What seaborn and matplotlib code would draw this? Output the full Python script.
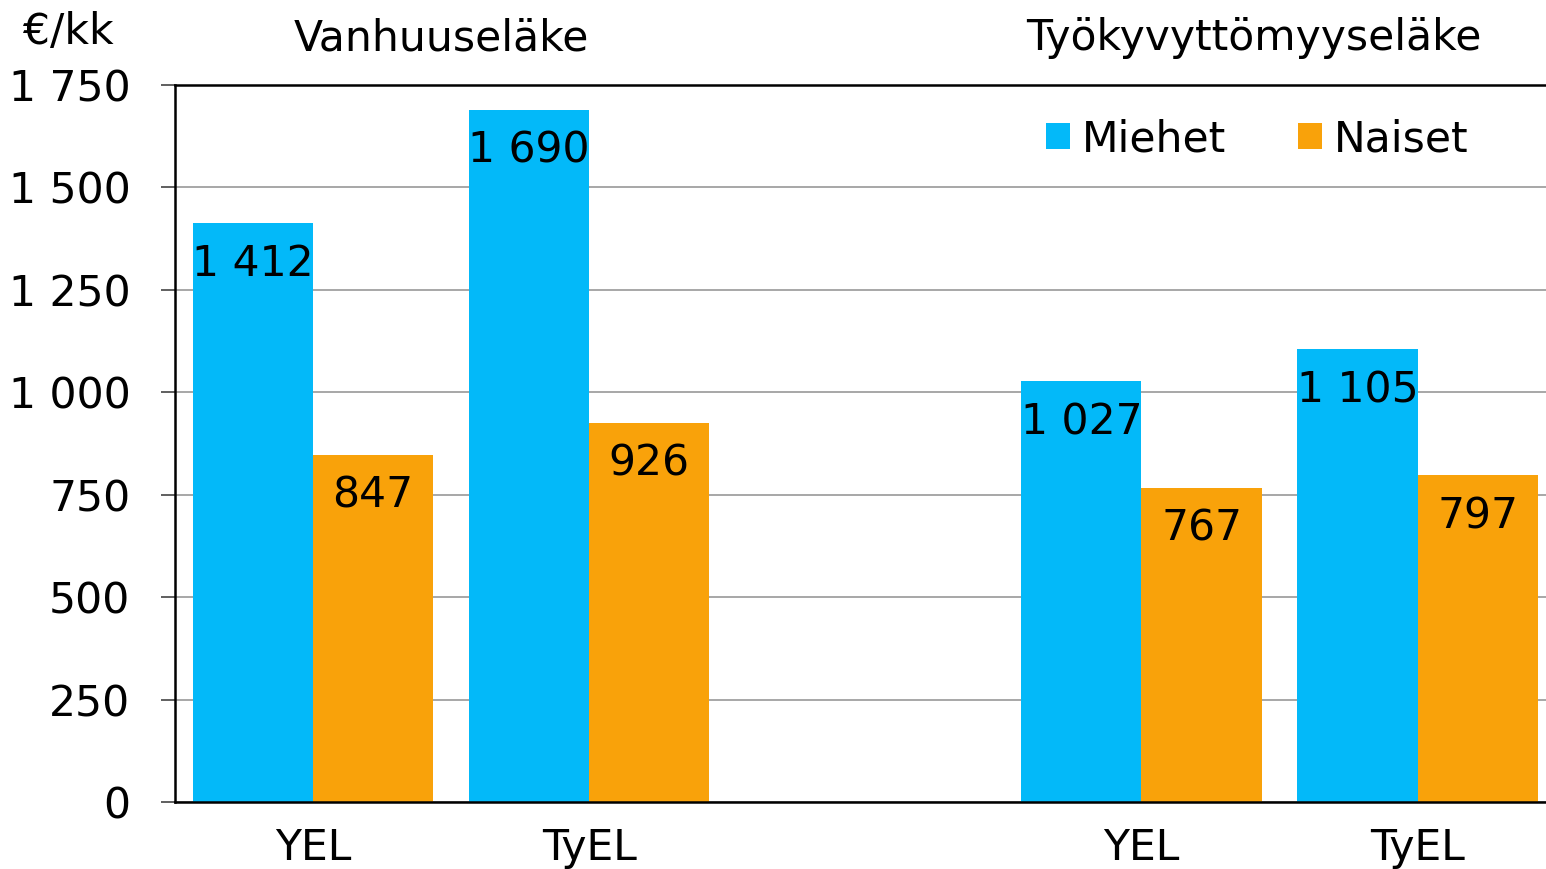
import numpy as np
import pandas as pd
import matplotlib
matplotlib.use("Agg")
import matplotlib.pyplot as plt
from matplotlib.patches import Patch
import seaborn as sns

# data
slots = ["v_YEL", "v_TyEL", "gap", "t_YEL", "t_TyEL"]
slot_labels = ["YEL", "TyEL", "", "YEL", "TyEL"]
bar_slots = ["v_YEL", "v_TyEL", "t_YEL", "t_TyEL"]
miehet = [1412, 1690, 1027, 1105]
naiset = [847, 926, 767, 797]
groups = ["Miehet", "Naiset"]
group_titles = ["Vanhuuseläke", "Työkyvyttömyyseläke"]
yticks = [0, 250, 500, 750, 1000, 1250, 1500, 1750]
unit = "€/kk"

blue = "#03B9F9"
orange = "#F9A20A"

df = pd.DataFrame({
    "slot": bar_slots * 2,
    "sex": [groups[0]] * 4 + [groups[1]] * 4,
    "value": miehet + naiset,
})

sns.set_theme(style="white")
plt.rcParams["font.family"] = ["DejaVu Sans"]
plt.rcParams["text.color"] = "black"
plt.rcParams["xtick.color"] = "black"
plt.rcParams["ytick.color"] = "black"
fs = 30.6

fig = plt.figure(figsize=(15.46, 8.69), dpi=100)
ax = fig.add_axes([175 / 1546, 1 - 802 / 869, 1 - 175 / 1546, (802 - 85) / 869])

sns.barplot(data=df, x="slot", y="value", hue="sex", order=slots,
            hue_order=groups, palette=[blue, orange], width=0.87,
            saturation=1, legend=False, ax=ax, linewidth=0)

ax.set_xlim(-0.5, 4.465)
ax.set_ylim(0, 1750)
ax.set_yticks(yticks)
ax.set_yticklabels([f"{v:,}".replace(",", " ") for v in yticks], fontsize=fs)
ax.set_xticks(range(len(slots)))
ax.set_xticklabels(slot_labels, fontsize=fs)
ax.set_xlabel("")
ax.set_ylabel("")
ax.tick_params(axis="y", left=True, length=10, width=1.2, color="#444444", pad=22)
ax.tick_params(axis="x", length=0, pad=18)

ax.yaxis.grid(True, color="#a0a0a0", linewidth=1.3)
ax.set_axisbelow(True)
for s in ["left", "bottom", "top"]:
    ax.spines[s].set_color("black")
    ax.spines[s].set_linewidth(1.8)
ax.spines["right"].set_visible(False)

# value labels inside bars
for p in ax.patches:
    h = p.get_height()
    if np.isnan(h) or h == 0:
        continue
    ax.annotate(f"{int(round(h)):,}".replace(",", " "),
                (p.get_x() + p.get_width() / 2, h),
                xytext=(0, -41), textcoords="offset pixels",
                ha="center", va="center", fontsize=fs, color="black")

# group titles
trans = matplotlib.transforms.blended_transform_factory(ax.transData, ax.transAxes)
ax.text(0.463, 1.0655, group_titles[0], transform=trans, ha="center", va="center", fontsize=fs)
ax.text(3.406, 1.0655, group_titles[1], transform=trans, ha="center", va="center", fontsize=fs)

fig.text(68 / 1546, 1 - 32 / 869, unit, ha="center", va="center", fontsize=fs)

handles = [Patch(facecolor=blue, edgecolor="none", label=groups[0]),
           Patch(facecolor=orange, edgecolor="none", label=groups[1])]
ax.legend(handles=handles, loc="center left", ncol=2, frameon=False,
          bbox_to_anchor=(1046 / 1546, 1 - 139 / 869), bbox_transform=fig.transFigure,
          fontsize=fs, handlelength=0.56, handleheight=0.56, handletextpad=0.28,
          columnspacing=1.7, borderpad=0, borderaxespad=0)

fig.savefig("out.png", dpi=100)
